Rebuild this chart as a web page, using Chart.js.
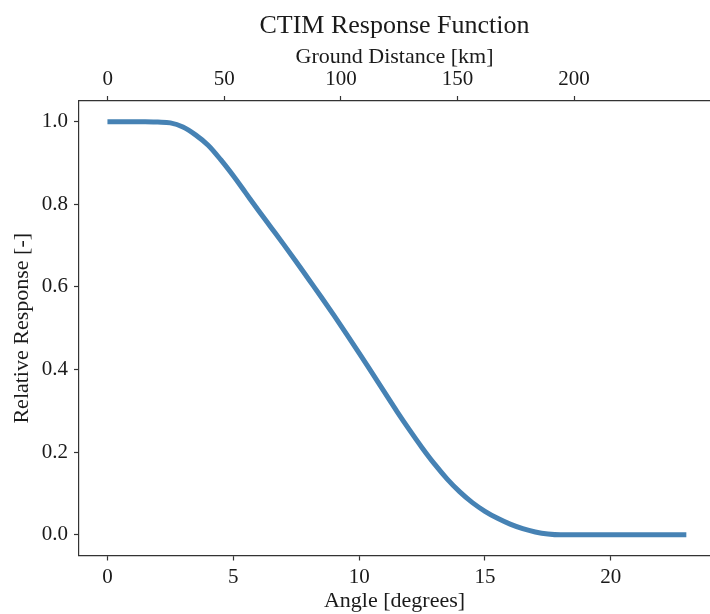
<!DOCTYPE html>
<html>
<head>
<meta charset="utf-8">
<script src="https://cdn.jsdelivr.net/npm/chart.js@4.4.0/dist/chart.umd.min.js"></script>
<style>
  html, body { margin: 0; padding: 0; background: #fff; overflow: hidden; }
  #wrap { width: 710px; height: 614px; }
</style>
</head>
<body>
<div id="wrap"><canvas id="ctim"></canvas></div>
<script>
// Curve
const angles = [0, 0.5, 1, 1.5, 2, 2.5, 3, 3.5, 4, 4.5, 5, 5.5, 6, 6.5, 7, 7.5, 8, 8.5, 9, 9.5,
                10, 10.5, 11, 11.5, 12, 12.5, 13, 13.5, 14, 14.5, 15, 15.5, 16, 16.5, 17, 17.5,
                18, 19, 20, 21, 22, 23];
const response = [1.0, 1.0, 1.0, 1.0, 0.999, 0.997, 0.987, 0.968, 0.943, 0.908, 0.869, 0.827,
                  0.785, 0.744, 0.703, 0.661, 0.618, 0.575, 0.531, 0.486, 0.440, 0.393, 0.346,
                  0.299, 0.254, 0.211, 0.171, 0.135, 0.104, 0.078, 0.057, 0.040, 0.026, 0.015,
                  0.007, 0.002, 0.0, 0.0, 0.0, 0.0, 0.0, 0.0];

const angleTicks = [0, 5, 10, 15, 20];
const distanceTicks = [0, 50, 100, 150, 200];
const responseTicks = [0.0, 0.2, 0.4, 0.6, 0.8, 1.0];

const serif = 'Liberation Serif';
const ink = '#1a1a1a';
const axisColor = '#333333';

function fixedTicks(list) {
    return function(scale) {
        scale.ticks = list.map(v => ({ value: v }));
    };
}

function axisGrid() {
    return {
        display: true,
        drawOnChartArea: false,
        drawTicks: true,
        tickLength: 5,
        tickWidth: 1.2,
        tickColor: axisColor
    };
}

new Chart(document.getElementById('ctim').getContext('2d'), {
    type: 'line',
    data: {
        datasets: [{
            label: 'CTIM',
            data: angles.map((a, i) => ({ x: a, y: response[i] })),
            borderColor: '#4682b4',
            borderWidth: 5,
            pointRadius: 0,
            cubicInterpolationMode: 'monotone',
            fill: false,
            xAxisID: 'x'
        }]
    },
    options: {
        responsive: true,
        maintainAspectRatio: false,
        animation: false,
        layout: { padding: 0 },
        plugins: {
            legend: { display: false },
            tooltip: { enabled: false },
            title: {
                display: true,
                fullSize: false,
                text: 'CTIM Response Function',
                color: ink,
                font: { family: serif, size: 26, weight: 'normal' },
                padding: { top: 11, bottom: 0 }
            }
        },
        scales: {
            x: {
                type: 'linear',
                position: 'bottom',
                min: -1.13,
                max: 23.94,
                afterBuildTicks: fixedTicks(angleTicks),
                afterFit: s => { s.height = 58.5; },
                grid: axisGrid(),
                border: { display: true, color: axisColor, width: 1.2 },
                ticks: {
                    color: ink,
                    padding: 4,
                    maxRotation: 0,
                    font: { family: serif, size: 21 },
                    callback: v => String(v)
                },
                title: {
                    display: true,
                    text: 'Angle [degrees]',
                    color: ink,
                    font: { family: serif, size: 22 },
                    padding: { top: 0, bottom: 0 }
                }
            },
            xTop: {
                type: 'linear',
                position: 'top',
                min: -12.31,
                max: 258.3,
                afterBuildTicks: fixedTicks(distanceTicks),
                afterFit: s => { s.height = 58.8; },
                grid: axisGrid(),
                border: { display: true, color: axisColor, width: 1.2 },
                ticks: {
                    color: ink,
                    padding: 4,
                    maxRotation: 0,
                    font: { family: serif, size: 21 },
                    callback: v => String(v)
                },
                title: {
                    display: true,
                    text: 'Ground Distance [km]',
                    color: ink,
                    font: { family: serif, size: 22 },
                    padding: { top: 2, bottom: 0 }
                }
            },
            y: {
                type: 'linear',
                position: 'left',
                min: -0.05,
                max: 1.05,
                afterBuildTicks: fixedTicks(responseTicks),
                afterFit: s => { s.width = 79; },
                grid: axisGrid(),
                border: { display: true, color: axisColor, width: 1.2 },
                ticks: {
                    color: ink,
                    padding: 6,
                    font: { family: serif, size: 21 },
                    callback: v => v.toFixed(1)
                },
                title: {
                    display: true,
                    text: 'Relative Response [-]',
                    color: ink,
                    font: { family: serif, size: 22 },
                    padding: { top: 9, bottom: 0 }
                }
            }
        }
    }
});
</script>
</body>
</html>
